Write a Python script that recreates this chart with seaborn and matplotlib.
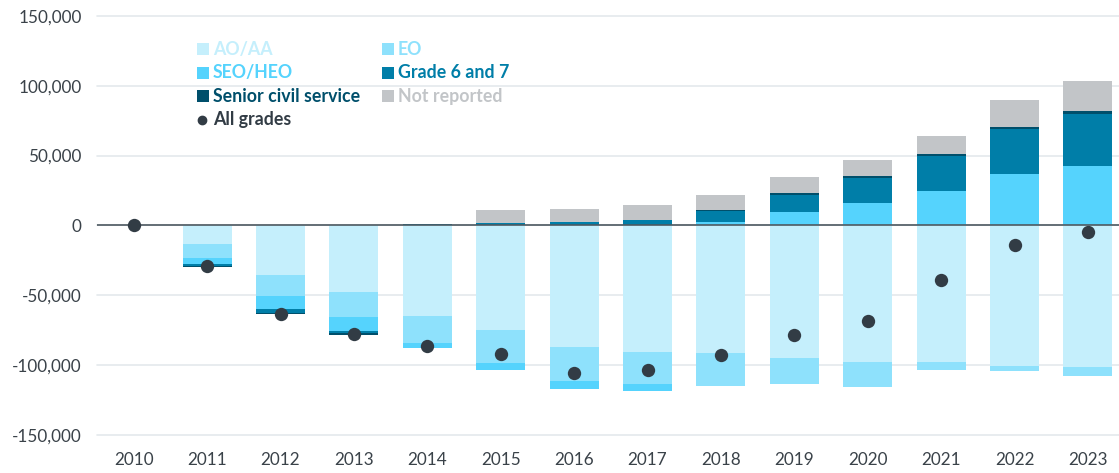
import matplotlib
matplotlib.use("Agg")
import matplotlib.pyplot as plt
from matplotlib.patches import Rectangle
from matplotlib.lines import Line2D
import pandas as pd
import seaborn as sns

# Change in civil service headcount since 2010, by grade
years = [str(y) for y in range(2010, 2024)]
ao_aa = [0, -12900, -35200, -47400, -64800, -74800, -86900, -90500, -91200, -94800, -97600, -97900, -100500, -101000]
eo = [0, -10400, -15000, -17800, -19000, -23500, -24300, -22800, -23800, -18300, -17900, -5700, -3500, -6900]
seo_heo = [0, -4300, -9300, -10300, -3600, -4800, -5900, -4800, 2400, 9500, 16400, 24800, 36900, 42600]
grade_6_7 = [0, -1200, -3400, -1600, 1000, 1700, 2400, 3800, 8300, 12600, 17600, 24700, 32100, 37400]
senior_cs = [0, -700, -700, -1000, 0, 200, 200, 300, 500, 1200, 1500, 1700, 1500, 1900]
not_reported = [0, 0, 0, 0, 0, 9300, 9100, 10200, 10600, 11500, 11600, 12800, 19300, 21400]
all_grades = [0, -29300, -63600, -77900, -86200, -91700, -105200, -103300, -92800, -78100, -68300, -39300, -14000, -4500]

grade_names = ["AO/AA", "EO", "SEO/HEO", "Grade 6 and 7", "Senior civil service", "Not reported"]
colours = {
    "AO/AA": "#c5effc",
    "EO": "#8ee1fc",
    "SEO/HEO": "#55d3fd",
    "Grade 6 and 7": "#007ea8",
    "Senior civil service": "#004f6b",
    "Not reported": "#c2c5c8",
}
dot_colour = "#323c45"
text_colour = "#3a4249"

df = pd.DataFrame(
    dict(zip(grade_names, [ao_aa, eo, seo_heo, grade_6_7, senior_cs, not_reported])),
    index=years,
)

sns.set_theme(style="white")
plt.rcParams["font.family"] = ["Lato", "DejaVu Sans"]

W, H = 1119, 473
fig = plt.figure(figsize=(W / 100, H / 100), dpi=100)
ax = fig.add_axes([97 / W, 1 - 435.3 / H, 1027.6 / W, 419.6 / H])

# Diverging stacks: positive parts stack upwards, negative parts downwards.
pos_order = ["SEO/HEO", "Grade 6 and 7", "Senior civil service", "Not reported"]
neg_order = ["AO/AA", "EO", "SEO/HEO", "Grade 6 and 7", "Senior civil service"]
pos_cum = df.clip(lower=0)[pos_order].cumsum(axis=1)
neg_cum = df.clip(upper=0)[neg_order].cumsum(axis=1)

# Draw the outermost cumulative totals first so inner segments sit on top.
for g in reversed(pos_order):
    sns.barplot(x=years, y=pos_cum[g].values, color=colours[g], saturation=1,
                width=0.667, errorbar=None, ax=ax, zorder=2, linewidth=0)
for g in reversed(neg_order):
    sns.barplot(x=years, y=neg_cum[g].values, color=colours[g], saturation=1,
                width=0.667, errorbar=None, ax=ax, zorder=2, linewidth=0)

ax.axhline(0, color="#4e5961", lw=1.2, zorder=3)

sns.stripplot(x=years, y=all_grades, jitter=False, size=9.6, color=dot_colour,
              linewidth=0, ax=ax, zorder=5)

ax.set_xlim(-0.5, 13.5)
ax.set_ylim(-150000, 150000)
ax.set_yticks(range(-150000, 150001, 50000))
ax.set_yticklabels([f"{v:,}" for v in range(-150000, 150001, 50000)])
ax.yaxis.grid(True, color="#e4e9ec", lw=1.2)
ax.xaxis.grid(False)
ax.set_axisbelow(True)
for gl in ax.get_ygridlines():
    gl.set_clip_on(False)
for s in ax.spines.values():
    s.set_visible(False)
ax.set_xlabel("")
ax.set_ylabel("")
ax.tick_params(axis="y", length=0, labelsize=12.3, labelcolor=text_colour, pad=11)
ax.tick_params(axis="x", length=0, labelsize=12.3, labelcolor=text_colour, pad=12)

# Legend laid out in two columns with text tinted by series colour
def fx(px):
    return px / W

def fy(py):
    return 1 - py / H

legend_items = [
    ("AO/AA", 203, 49.3), ("EO", 388, 49.3),
    ("SEO/HEO", 203, 72.7), ("Grade 6 and 7", 388, 72.7),
    ("Senior civil service", 203, 96.3), ("Not reported", 388, 96.3),
]
sq = 11.7
for name, cx, cy in legend_items:
    fig.add_artist(Rectangle((fx(cx - sq / 2), fy(cy + sq / 2)), sq / W, sq / H,
                             transform=fig.transFigure, color=colours[name], lw=0))
    fig.text(fx(cx + sq / 2 + 4), fy(cy), name, color=colours[name], fontsize=12.8,
             fontweight="bold", va="center", ha="left")
fig.add_artist(Line2D([fx(202)], [fy(120)], marker="o", markersize=6, color=dot_colour,
                      lw=0, transform=fig.transFigure))
fig.text(fx(213), fy(120), "All grades", color=dot_colour, fontsize=12.8,
         fontweight="bold", va="center", ha="left")

fig.savefig("out.png", dpi=100, facecolor="white")
